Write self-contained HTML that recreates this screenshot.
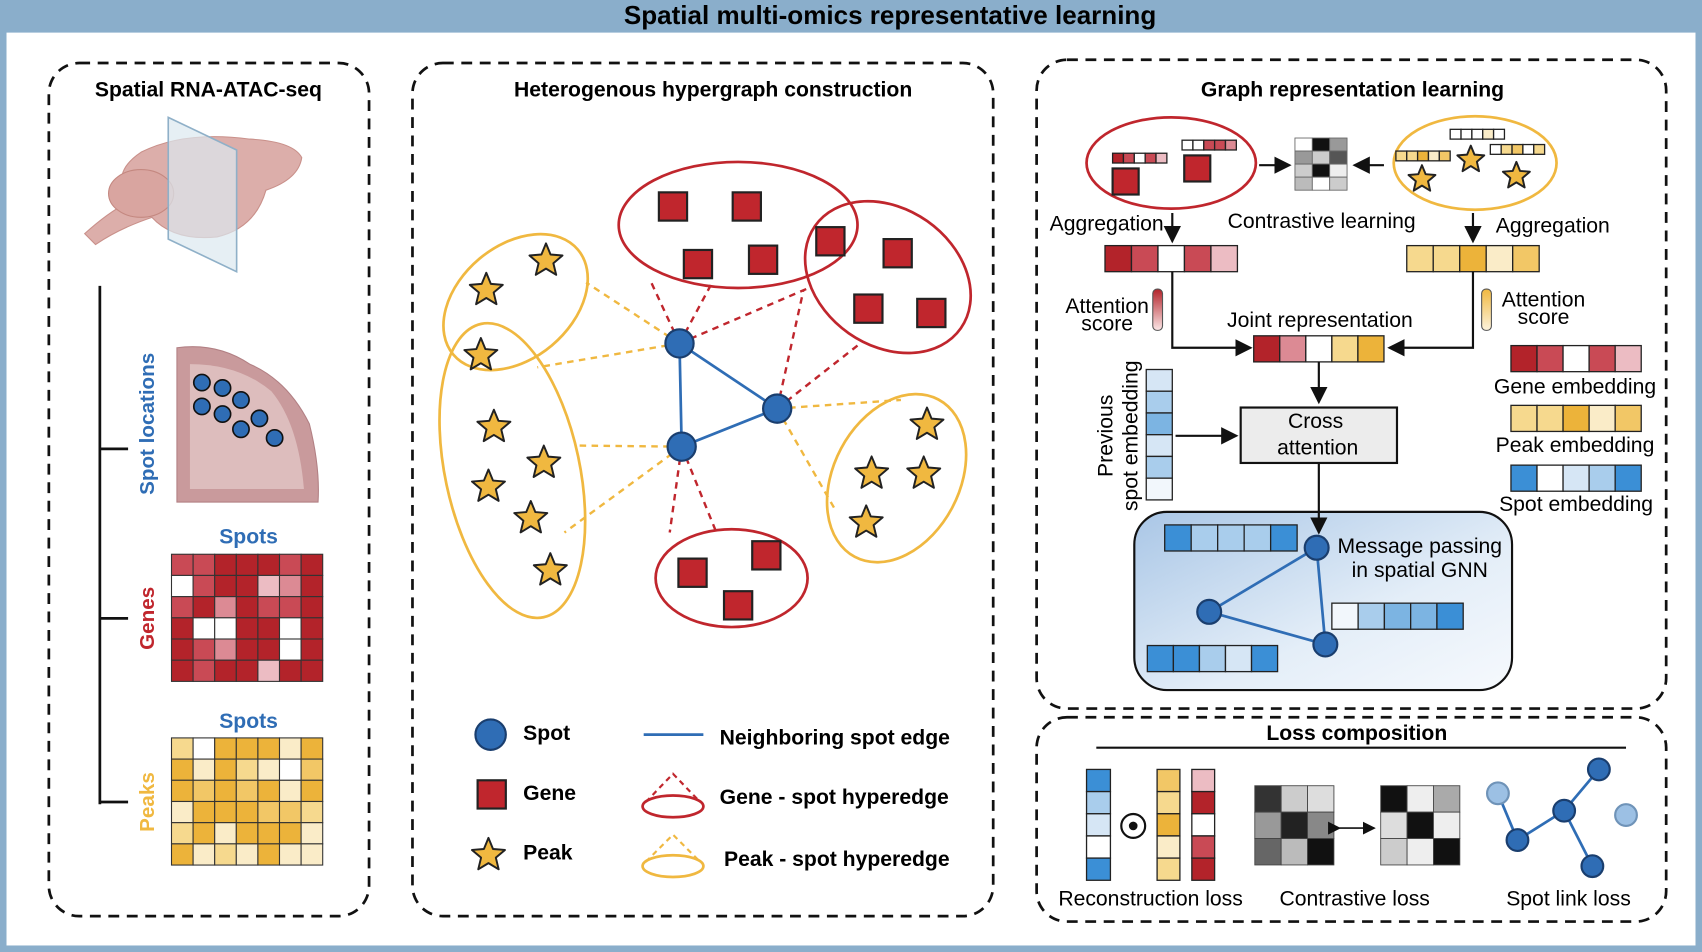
<!DOCTYPE html>
<html><head><meta charset="utf-8"><style>
html,body{margin:0;padding:0;background:#fff}
svg{display:block}
text{font-family:"Liberation Sans",sans-serif}
.t{font-weight:bold;font-size:19.5px;text-anchor:middle}
.l{font-size:19.5px}
.d{fill:none;stroke:#111;stroke-width:2.5;stroke-dasharray:10 7}
</style></head><body>
<svg id="s" width="1702" height="952" viewBox="0 0 1568 876" preserveAspectRatio="none" xmlns="http://www.w3.org/2000/svg">
<defs>
<linearGradient id="gnn" x1="0" y1="0" x2="1" y2="1"><stop offset="0" stop-color="#a9c6e6"/><stop offset="0.6" stop-color="#e4eef8"/><stop offset="1" stop-color="#f6f9fd"/></linearGradient>
<linearGradient id="rg" x1="0" y1="0" x2="0" y2="1"><stop offset="0" stop-color="#b3232a"/><stop offset="1" stop-color="#fbe6e6"/></linearGradient>
<linearGradient id="yg" x1="0" y1="0" x2="0" y2="1"><stop offset="0" stop-color="#f0b840"/><stop offset="1" stop-color="#fdf3dc"/></linearGradient>
<marker id="ar" markerWidth="8" markerHeight="8" refX="7" refY="4" orient="auto"><path d="M0,0 L8,4 L0,8 z" fill="#111"/></marker>
</defs>
<rect x="0" y="0" width="1568" height="876" fill="#8aaecb"/>
<rect x="6" y="30" width="1556" height="840" fill="#fff"/>
<text x="820" y="22" class="t" style="font-size:24px">Spatial multi-omics representative learning</text>

<rect x="45" y="58" width="295" height="785" rx="28" class="d"/>
<rect x="380" y="58" width="535" height="785" rx="28" class="d"/>
<rect x="955" y="55" width="580" height="597" rx="28" class="d"/>
<rect x="955" y="660" width="580" height="188" rx="28" class="d"/>

<!-- panel 1 -->
<text x="192" y="89" class="t">Spatial RNA-ATAC-seq</text>
<g>
<path d="M78,215 Q100,195 120,185 Q100,160 130,140 Q170,120 230,128 Q270,130 278,145 Q275,165 245,175 Q235,210 200,218 Q160,222 140,200 Q110,210 88,225 Z" fill="#dcaeaa" stroke="#c9908a"/>
<ellipse cx="130" cy="178" rx="30" ry="22" fill="#d9a5a0" stroke="#c48880"/>
<polygon points="155,108 218,138 218,250 155,220" fill="#dbe8f0" fill-opacity="0.7" stroke="#8fb0c8" stroke-width="1.5"/>
</g>
<path d="M92,263 V740 M92,413 H118 M92,569 H118 M92,738 H118" stroke="#111" stroke-width="2.5" fill="none"/>
<text transform="translate(142,390) rotate(-90)" class="t" fill="#2f6db5" style="font-size:19px">Spot locations</text>
<text transform="translate(142,569) rotate(-90)" class="t" fill="#c0262d" style="font-size:19px">Genes</text>
<text transform="translate(142,738) rotate(-90)" class="t" fill="#f0b840" style="font-size:19px">Peaks</text>
<path d="M163,320 Q200,315 230,335 Q265,350 285,390 Q295,430 293,462 L163,462 Z" fill="#c99a9c" stroke="#b28084"/>
<path d="M175,335 Q220,335 250,360 Q275,390 280,450 L175,450 Z" fill="#ddbdbd"/>
<g fill="#2f6db5" stroke="#111" stroke-width="1.5">
<circle cx="186" cy="352" r="7.5"/><circle cx="205" cy="357" r="7.5"/><circle cx="186" cy="374" r="7.5"/><circle cx="222" cy="368" r="7.5"/><circle cx="205" cy="381" r="7.5"/><circle cx="239" cy="385" r="7.5"/><circle cx="222" cy="395" r="7.5"/><circle cx="253" cy="403" r="7.5"/>
</g>
<text x="229" y="500" class="t" fill="#2f6db5">Spots</text>
<text x="229" y="670" class="t" fill="#2f6db5">Spots</text>
<g id="gg"></g><g id="pg"></g>

<!-- panel 2 -->
<text x="657" y="89" class="t">Heterogenous hypergraph construction</text>
<g stroke="#c0262d" stroke-width="2.2" stroke-dasharray="6 5" fill="none">
<path d="M626,316 L600,260 M626,316 L655,262 M626,316 L745,265 M716,376 L740,268 M716,376 L790,318 M628,411 L617,490 M628,411 L660,490"/>
</g>
<g stroke="#f0b840" stroke-width="2.2" stroke-dasharray="6 5" fill="none">
<path d="M626,316 L540,260 M626,316 L495,338 M628,411 L520,490 M628,411 L530,410 M716,376 L830,368 M716,376 L770,470"/>
</g>
<g fill="none" stroke-width="2.5">
<ellipse cx="680" cy="207" rx="110" ry="58" stroke="#c0262d"/>
<ellipse cx="818" cy="255" rx="82" ry="63" transform="rotate(35 818 255)" stroke="#c0262d"/>
<ellipse cx="674" cy="532" rx="70" ry="45" stroke="#c0262d"/>
<ellipse cx="475" cy="278" rx="75" ry="52" transform="rotate(-40 475 278)" stroke="#f0b840"/>
<ellipse cx="472" cy="433" rx="62" ry="138" transform="rotate(-12 472 433)" stroke="#f0b840"/>
<ellipse cx="826" cy="440" rx="58" ry="82" transform="rotate(28 826 440)" stroke="#f0b840"/>
</g>
<path d="M626,316 L716,376 L628,411 Z" fill="none" stroke="#2f6db5" stroke-width="2.5"/>
<g fill="#2f6db5" stroke="#1a3e6e" stroke-width="2"><circle cx="626" cy="316" r="13"/><circle cx="716" cy="376" r="13"/><circle cx="628" cy="411" r="13"/><circle cx="452" cy="676" r="14"/></g>
<g id="sq"></g><g id="st"></g>
<text x="482" y="681" class="t" style="text-anchor:start">Spot</text>
<text x="482" y="736" class="t" style="text-anchor:start">Gene</text>
<text x="482" y="791" class="t" style="text-anchor:start">Peak</text>
<line x1="593" y1="676" x2="648" y2="676" stroke="#2f6db5" stroke-width="2.5"/>
<text x="663" y="685" class="t" style="text-anchor:start">Neighboring spot edge</text>
<path d="M595,738 L620,712 L645,738" fill="none" stroke="#c0262d" stroke-width="2" stroke-dasharray="5 4"/><ellipse cx="620" cy="742" rx="28" ry="10" fill="none" stroke="#c0262d" stroke-width="2.5"/>
<text x="663" y="740" class="t" style="text-anchor:start">Gene - spot hyperedge</text>
<path d="M595,793 L620,768 L645,793" fill="none" stroke="#f0b840" stroke-width="2" stroke-dasharray="5 4"/><ellipse cx="620" cy="797" rx="28" ry="10" fill="none" stroke="#f0b840" stroke-width="2.5"/>
<text x="667" y="797" class="t" style="text-anchor:start">Peak - spot hyperedge</text>

<!-- panel 3 -->
<text x="1246" y="89" class="t">Graph representation learning</text>
<ellipse cx="1079" cy="150" rx="78" ry="42" fill="none" stroke="#c0262d" stroke-width="2.5"/>
<ellipse cx="1359" cy="150" rx="75" ry="43" fill="none" stroke="#f0b840" stroke-width="2.5"/>
<rect x="1045" y="471" width="348" height="164" rx="30" fill="url(#gnn)" stroke="#111" stroke-width="2"/>
<g id="p3"></g>
<g stroke="#111" stroke-width="2" fill="none" marker-end="url(#ar)">
<path d="M1160,152 H1188"/><path d="M1275,152 H1248"/>
<path d="M1080,196 V222"/><path d="M1357,196 V222"/>
<path d="M1080,250 V320 H1152"/><path d="M1357,250 V320 H1280"/>
<path d="M1215,333 V370"/><path d="M1083,401 H1139"/><path d="M1215,426 V490"/>
</g>
<text x="967" y="212" class="l">Aggregation</text>
<text x="1131" y="210" class="l">Contrastive learning</text>
<text x="1378" y="214" class="l">Aggregation</text>
<text x="1020" y="288" class="l" text-anchor="middle">Attention</text><text x="1020" y="304" class="l" text-anchor="middle">score</text>
<text x="1422" y="282" class="l" text-anchor="middle">Attention</text><text x="1422" y="298" class="l" text-anchor="middle">score</text>
<rect x="1062" y="266" width="9" height="38" rx="4" fill="url(#rg)" stroke="#555"/>
<rect x="1365" y="266" width="9" height="38" rx="4" fill="url(#yg)" stroke="#555"/>
<text x="1216" y="301" class="l" text-anchor="middle">Joint representation</text>
<rect x="1143" y="375" width="144" height="51" fill="#ececec" stroke="#111" stroke-width="2"/>
<text x="1212" y="394" class="l" text-anchor="middle">Cross</text><text x="1214" y="418" class="l" text-anchor="middle">attention</text>
<text transform="translate(1025,401) rotate(-90)" class="l" text-anchor="middle">Previous</text>
<text transform="translate(1048,401) rotate(-90)" class="l" text-anchor="middle">spot embedding</text>
<text x="1451" y="362" class="l" text-anchor="middle">Gene embedding</text>
<text x="1451" y="416" class="l" text-anchor="middle">Peak embedding</text>
<text x="1452" y="470" class="l" text-anchor="middle">Spot embedding</text>
<path d="M1213,504 L1114,563 L1221,593 Z M1213,504 L1221,593" fill="none" stroke="#2f6db5" stroke-width="2.5"/>
<g fill="#2f6db5" stroke="#1a3e6e" stroke-width="2"><circle cx="1213" cy="504" r="11"/><circle cx="1114" cy="563" r="11"/><circle cx="1221" cy="593" r="11"/></g>
<text x="1308" y="509" class="l" text-anchor="middle">Message passing</text>
<text x="1308" y="531" class="l" text-anchor="middle">in spatial GNN</text>

<!-- panel 4 -->
<text x="1250" y="681" class="t">Loss composition</text>
<line x1="1010" y1="688" x2="1498" y2="688" stroke="#111" stroke-width="2"/>
<circle cx="1044" cy="760" r="11" fill="none" stroke="#111" stroke-width="2"/><circle cx="1044" cy="760" r="4" fill="#111"/>
<path d="M1234,762 H1266" stroke="#111" stroke-width="1.5" fill="none" marker-end="url(#ar)" marker-start="url(#ar)"/>
<g stroke="#2f6db5" stroke-width="2.5" fill="none"><path d="M1380,730 L1398,773 L1441,746 L1473,708 M1441,746 L1467,797"/></g>
<g stroke="#1a3e6e" stroke-width="2"><circle cx="1380" cy="730" r="10" fill="#9cc0e4" stroke="#6f93b8"/><circle cx="1498" cy="750" r="10" fill="#9cc0e4" stroke="#6f93b8"/><circle cx="1473" cy="708" r="10" fill="#2f6db5"/><circle cx="1441" cy="746" r="10" fill="#2f6db5"/><circle cx="1398" cy="773" r="10" fill="#2f6db5"/><circle cx="1467" cy="797" r="10" fill="#2f6db5"/></g>
<text x="1060" y="833" class="l" text-anchor="middle">Reconstruction loss</text>
<text x="1248" y="833" class="l" text-anchor="middle">Contrastive loss</text>
<text x="1445" y="833" class="l" text-anchor="middle">Spot link loss</text>
</svg>
<script>
var NS="http://www.w3.org/2000/svg";
function el(p,t,a){var e=document.createElementNS(NS,t);for(var k in a)e.setAttribute(k,a[k]);document.getElementById(p).appendChild(e);return e;}
var R=["#b3232a","#c94a55","#dc8a94","#ecbcc3","#ffffff"],Y=["#ecb33a","#f2c766","#f6d98e","#faecc8","#ffffff"];
function grid(p,x,y,cols,rows,w,h,pal,seed){var s=seed;for(var r=0;r<rows;r++)for(var c=0;c<cols;c++){s=(s*9301+49297)%233280;var v=s/233280;var i=v<0.45?0:v<0.6?1:v<0.75?2:v<0.87?3:4;el(p,"rect",{x:x+c*w,y:y+r*h,width:w,height:h,fill:pal[i],stroke:"#333","stroke-width":1});}}
grid("gg",158,510,7,6,19.9,19.5,R,7);
grid("pg",158,679,7,6,19.9,19.5,Y,11);
function bar(x,y,n,w,h,cols,vert){for(var i=0;i<n;i++)el("p3","rect",{x:vert?x:x+i*w,y:vert?y+i*h:y,width:w,height:h,fill:cols[i%cols.length],stroke:"#222","stroke-width":1.2});}
function sq(x,y,s,p){el(p||"sq","rect",{x:x-s/2,y:y-s/2,width:s,height:s,fill:"#c0262d",stroke:"#222","stroke-width":2});}
[[620,190],[688,190],[643,243],[703,239],[765,222],[827,233],[800,284],[858,288],[638,527],[706,511],[680,557],[453,731]].forEach(function(p){sq(p[0],p[1],26);});
function star(x,y,r,p){var pts=[];for(var i=0;i<10;i++){var a=-Math.PI/2+i*Math.PI/5,rr=i%2?r*0.45:r;pts.push((x+rr*Math.cos(a)).toFixed(1)+","+(y+rr*Math.sin(a)).toFixed(1));}el(p||"st","polygon",{points:pts.join(" "),fill:"#f0b840",stroke:"#222","stroke-width":1.8,"stroke-linejoin":"round"});}
[[448,267],[503,240],[443,327],[455,393],[501,426],[450,448],[489,477],[507,525],[854,391],[803,436],[851,436],[798,481],[450,787]].forEach(function(p){star(p[0],p[1],16);});
var rc=["#b3232a","#c94a55","#ffffff","#c94a55","#ecbcc3"],yc=["#f6d98e","#f6d98e","#ecb33a","#faecc8","#f2c766"];
bar(1025,141,5,10,9,rc);bar(1089,129,5,10,9,["#fff","#fff","#c94a55","#c94a55","#dc8a94"]);
sq(1037,167,24,"p3");sq(1103,155,24,"p3");
bar(1336,119,5,10,9,["#fff","#fff","#fff","#faecc8","#fff"]);bar(1286,139,5,10,9,yc);bar(1373,133,5,10,9,["#fff","#f6d98e","#f2c766","#fff","#f6d98e"]);
star(1310,165,13,"p3");star(1355,147,13,"p3");star(1397,162,13,"p3");
var gm=["#fff","#111","#999","#999","#ccc","#555","#ccc","#111","#eee","#bbb","#fff","#ccc"];
for(var i=0;i<12;i++)el("p3","rect",{x:1193+(i%3)*16,y:127+Math.floor(i/3)*12,width:16,height:12,fill:gm[i],stroke:"#666","stroke-width":0.8});
bar(1018,226,5,24.4,24,rc);bar(1296,226,5,24.4,24,yc);
bar(1155,309,5,24,24,["#b3232a","#dc8a94","#fff","#f6d98e","#ecb33a"]);
var bc=["#d6e6f5","#a9cdec","#7cb4e2","#d6e6f5","#a9cdec","#f2f7fc"];
bar(1056,340,6,24,20,bc,true);
bar(1392,318,5,24,24,["#b3232a","#c94a55","#fff","#c94a55","#ecbcc3"]);
bar(1392,373,5,24,24,["#f6d98e","#f6d98e","#ecb33a","#faecc8","#f2c766"]);
bar(1392,428,5,24,24,["#3b8fd6","#fff","#d6e6f5","#a9cdec","#3b8fd6"]);
bar(1073,483,5,24.4,24,["#3b8fd6","#a9cdec","#a9cdec","#a9cdec","#3b8fd6"]);
bar(1227,555,5,24.2,24,["#f2f7fc","#a9cdec","#7cb4e2","#7cb4e2","#3b8fd6"]);
bar(1057,594,5,24,24,["#3b8fd6","#3b8fd6","#a9cdec","#d6e6f5","#3b8fd6"]);
bar(1001,708,5,22,20.4,["#3b8fd6","#a9cdec","#d6e6f5","#fff","#3b8fd6"],true);
bar(1066,708,5,21,20.4,["#f2c766","#f6d98e","#ecb33a","#faecc8","#f6d98e"],true);
bar(1098,708,5,21,20.4,["#ecbcc3","#b3232a","#fff","#c94a55","#b3232a"],true);
var m1=["#333","#ccc","#ddd","#999","#222","#888","#666","#bbb","#111"],m2=["#111","#eee","#aaa","#ddd","#111","#eee","#ccc","#eee","#111"];
for(i=0;i<9;i++){el("p3","rect",{x:1156+(i%3)*24.3,y:723+Math.floor(i/3)*24.3,width:24.3,height:24.3,fill:m1[i],stroke:"#444","stroke-width":0.8});el("p3","rect",{x:1272+(i%3)*24.3,y:723+Math.floor(i/3)*24.3,width:24.3,height:24.3,fill:m2[i],stroke:"#444","stroke-width":0.8});}
</script>
</body></html>
